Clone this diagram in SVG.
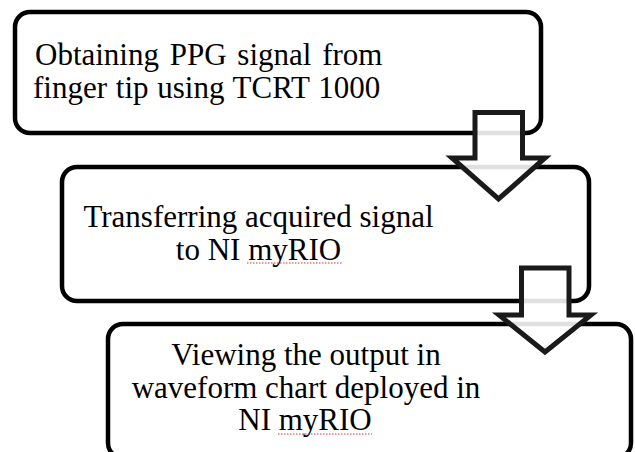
<svg xmlns="http://www.w3.org/2000/svg" width="635" height="452" viewBox="0 0 635 452">
<defs>
<style>
.box{fill:#ffffff;stroke:#000000;stroke-width:4.5}
.arrow{fill:#ffffff;fill-opacity:0.88;stroke:#1a1a1a;stroke-width:5;stroke-linejoin:miter;stroke-miterlimit:10}
text{font-family:"Liberation Serif","Times New Roman",serif;font-size:31px;fill:#000000}
.c{text-anchor:middle}
.sp{fill:none;stroke:#e03030;stroke-width:1;stroke-dasharray:1.5 1.5}
</style>
</defs>
<rect width="635" height="452" fill="#ffffff"/>
<g id="node1">
<rect class="box" x="15" y="12" width="526" height="121" rx="15" ry="15"/>
<text x="35" y="65" font-family="Liberation Serif, serif" word-spacing="3">Obtaining PPG signal from</text>
<text x="33" y="98" font-family="Liberation Serif, serif" word-spacing="1">finger tip using TCRT 1000</text>
</g>
<g id="node2">
<rect class="box" x="62" y="167" width="527" height="134" rx="15" ry="15"/>
<text class="c" x="258.5" y="227">Transferring acquired signal</text>
<text class="c" x="258.5" y="260">to NI myRIO</text>
<path class="sp" d="M247,263 H342"/>
</g>
<g id="node3">
<rect class="box" x="108" y="324" width="523" height="134" rx="15" ry="15"/>
<text class="c" x="306" y="365">Viewing the output in</text>
<text class="c" x="306" y="398">waveform chart deployed in</text>
<text class="c" x="305" y="430">NI myRIO</text>
<path class="sp" d="M278,434 H372"/>
</g>
<g id="connectors">
<path class="arrow" d="M475,112.5 H522.5 V158 H545 L498.5,199 L452,158 H475 Z"/>
<path class="arrow" d="M521.5,268 H569 V315 H591 L545,352 L499,315 H521.5 Z"/>
</g>
</svg>
